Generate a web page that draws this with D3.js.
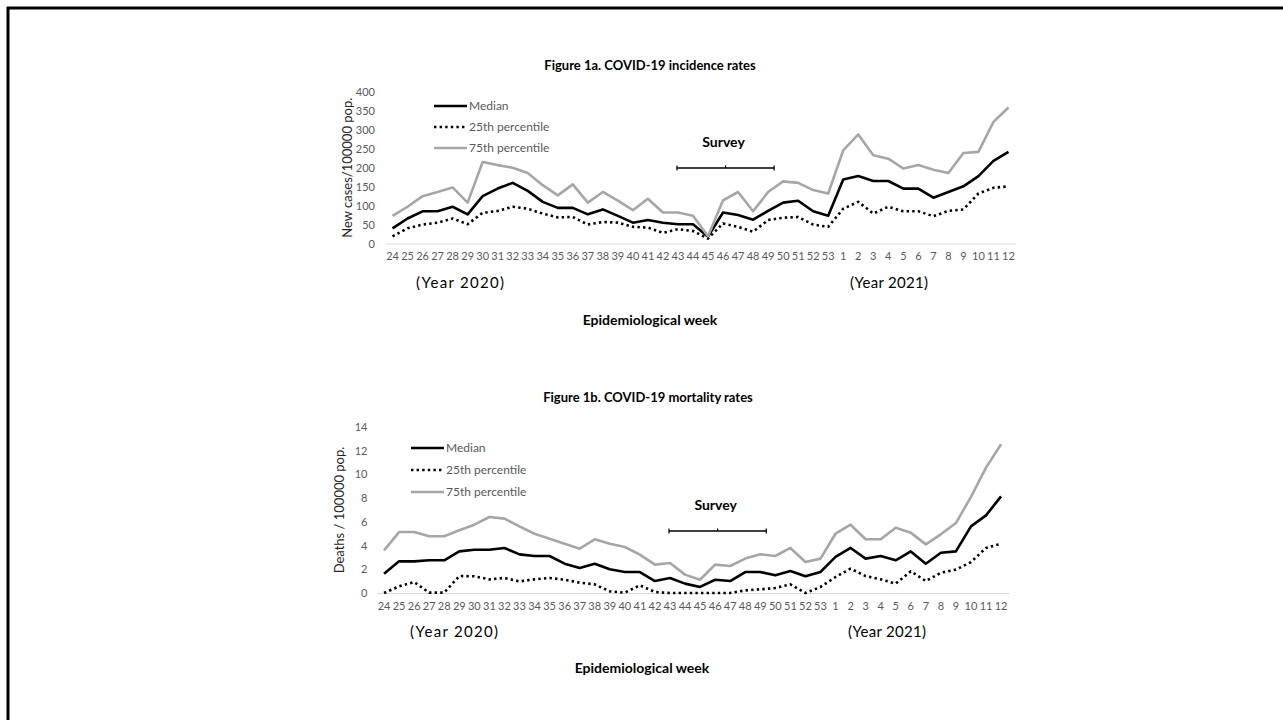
<!DOCTYPE html>
<html>
<head>
<meta charset="utf-8">
<script src="https://cdn.jsdelivr.net/npm/d3@7"></script>
<style>
  html, body { margin: 0; padding: 0; background: #fff; }
  svg { display: block; font-family: Lato, "Open Sans", sans-serif; }
</style>
</head>
<body>
<svg id="fig" width="1283" height="720"></svg>
<script>
// Epidemiological weeks: 24–53 of 2020, then 1–12 of 2021
const weeks = ["24","25","26","27","28","29","30","31","32","33","34","35","36","37","38","39","40","41","42","43","44","45","46","47","48","49","50","51","52","53","1","2","3","4","5","6","7","8","9","10","11","12"];

// Incidence: new cases per 100000 population
const incidenceMedian = [40,66,85,85,97,77,125,145,160,139,110,94,94,77,90,73,55,62,55,51,51,18,82,75,63,86,108,113,85,73,169,178,165,165,145,145,121,136,151,178,218,242];
const incidenceP25    = [19,40,50,55,66,51,81,86,97,92,79,69,70,50,57,55,44,42,28,38,33,13,53,44,31,62,68,70,50,44,92,110,79,97,85,85,72,86,90,132,147,151];
const incidenceP75    = [73,97,125,136,148,108,215,207,200,186,154,127,156,108,136,113,88,118,82,82,73,19,114,136,85,136,164,160,141,132,246,288,233,224,198,207,195,186,239,242,321,359];

// Mortality: deaths per 100000 population
const mortalityMedian = [1.63,2.67,2.67,2.76,2.76,3.51,3.65,3.65,3.80,3.26,3.12,3.12,2.47,2.11,2.47,2.00,1.77,1.77,1.01,1.27,0.79,0.51,1.12,1.01,1.77,1.77,1.49,1.86,1.41,1.77,3.04,3.80,2.90,3.12,2.76,3.51,2.47,3.40,3.51,5.62,6.55,8.15];
const mortalityP25    = [0,0.56,0.93,0.03,0.03,1.43,1.41,1.15,1.27,0.98,1.15,1.27,1.12,0.87,0.73,0.14,0.03,0.65,0.08,0,0,0,0,0,0.22,0.31,0.42,0.73,0,0.51,1.35,2.05,1.43,1.15,0.79,1.83,1.01,1.71,1.97,2.61,3.80,4.16];
const mortalityP75    = [3.60,5.14,5.14,4.78,4.78,5.29,5.76,6.41,6.27,5.62,5.00,4.58,4.16,3.74,4.53,4.16,3.88,3.23,2.39,2.53,1.55,1.12,2.39,2.28,2.90,3.26,3.12,3.80,2.61,2.90,5.00,5.76,4.53,4.53,5.51,5.09,4.10,4.95,5.90,8.10,10.57,12.54];

const incidenceTicks = [0,50,100,150,200,250,300,350,400];
const mortalityTicks = [0,2,4,6,8,10,12,14];
const legendLabels = ["Median", "25th percentile", "75th percentile"];
const surveyWeeks = ["43", "49"];

const svg = d3.select("#fig");
const GRAY_TEXT = "#595959";

// slide frame (top and left edges)
svg.append("line").attr("x1", 7).attr("x2", 1283).attr("y1", 8).attr("y2", 8)
  .attr("stroke", "#000").attr("stroke-width", 3);
svg.append("line").attr("x1", 8).attr("x2", 8).attr("y1", 7).attr("y2", 720)
  .attr("stroke", "#000").attr("stroke-width", 3);

const seriesStyle = [
  { key: "median", stroke: "#000", width: 2.6, dash: null },
  { key: "p25", stroke: "#000", width: 2.6, dash: "2.4,3.2" },
  { key: "p75", stroke: "#a6a6a6", width: 2.6, dash: null }
];

function drawPanel(p) {
  const g = svg.append("g");
  const x = d3.scaleBand().domain(weeks).range(p.xRange);
  const y = d3.scaleLinear().domain([0, d3.max(p.ticks)]).range(p.yRange);
  const cx = w => x(w) + x.bandwidth() / 2;

  // title
  g.append("text").attr("x", p.titleX).attr("y", p.titleY)
    .attr("text-anchor", "middle").attr("font-weight", "bold")
    .attr("font-size", 13).attr("fill", "#000").text(p.title);

  // x axis
  const xAxis = g.append("g").attr("transform", `translate(0,${p.yRange[0]})`)
    .call(d3.axisBottom(x).tickSize(0).tickPadding(9));
  xAxis.select(".domain").attr("stroke", "#d9d9d9").attr("stroke-width", 1.2);
  xAxis.selectAll("text").attr("font-size", 11).attr("fill", GRAY_TEXT)
    .attr("font-family", "Lato, sans-serif");

  // y axis (labels only)
  const yAxis = g.append("g").attr("transform", `translate(${p.xRange[0]},0)`)
    .call(d3.axisLeft(y).tickValues(p.ticks).tickSize(0).tickPadding(p.yPad));
  yAxis.select(".domain").remove();
  yAxis.selectAll("text").attr("font-size", 11).attr("fill", GRAY_TEXT)
    .attr("font-family", "Lato, sans-serif");

  // y axis title
  g.append("text")
    .attr("transform", `translate(${p.yTitleX},${(p.yRange[0] + p.yRange[1]) / 2}) rotate(-90)`)
    .attr("text-anchor", "middle").attr("font-size", 13).attr("fill", "#262626")
    .text(p.yTitle);

  // series lines
  const line = d3.line().x((d, i) => cx(weeks[i])).y(d => y(d));
  p.series.forEach((vals, k) => {
    const s = seriesStyle[k];
    g.append("path").datum(vals).attr("d", line)
      .attr("fill", "none").attr("stroke", s.stroke).attr("stroke-width", s.width)
      .attr("stroke-linejoin", "round")
      .attr("stroke-dasharray", s.dash);
  });

  // legend
  legendLabels.forEach((lab, k) => {
    const s = seriesStyle[k];
    const ly = p.legendY + k * p.legendGap;
    g.append("line").attr("x1", p.legendX).attr("x2", p.legendX + 33)
      .attr("y1", ly).attr("y2", ly)
      .attr("stroke", s.stroke).attr("stroke-width", s.width)
      .attr("stroke-dasharray", s.dash);
    g.append("text").attr("x", p.legendX + 35).attr("y", ly + 4)
      .attr("font-size", 12).attr("fill", GRAY_TEXT).text(lab);
  });

  // survey period bracket
  const sx0 = cx(surveyWeeks[0]) - 1;
  const sx1 = cx(surveyWeeks[1]) + 6;
  const sy = p.surveyY;
  g.append("line").attr("x1", sx0).attr("x2", sx1).attr("y1", sy).attr("y2", sy)
    .attr("stroke", "#000").attr("stroke-width", 1.6);
  [sx0, sx1].forEach(sx => g.append("line").attr("x1", sx).attr("x2", sx)
    .attr("y1", sy - 2.5).attr("y2", sy + 2.5).attr("stroke", "#000").attr("stroke-width", 1.2));
  g.append("line").attr("x1", (sx0 + sx1) / 2).attr("x2", (sx0 + sx1) / 2)
    .attr("y1", sy - 2.5).attr("y2", sy).attr("stroke", "#000").attr("stroke-width", 1.2);
  g.append("text").attr("x", (sx0 + sx1) / 2 - 2).attr("y", sy - 21)
    .attr("text-anchor", "middle").attr("font-weight", "bold").attr("font-size", 14)
    .attr("fill", "#000").text("Survey");

  // year annotations and axis title
  g.append("text").attr("x", p.year0X).attr("y", p.yearY)
    .attr("font-size", 15).attr("letter-spacing", 1.3).attr("fill", "#000").text("(Year 2020)");
  g.append("text").attr("x", p.year1X).attr("y", p.yearY)
    .attr("font-size", 15).attr("letter-spacing", 0.3).attr("fill", "#000").text("(Year 2021)");
  g.append("text").attr("x", p.xTitleX).attr("y", p.xTitleY)
    .attr("text-anchor", "middle").attr("font-weight", "bold").attr("font-size", 14)
    .attr("fill", "#000").text("Epidemiological week");
}

drawPanel({
  title: "Figure 1a. COVID-19 incidence rates", titleX: 650, titleY: 70,
  xRange: [385, 1016], yRange: [243.5, 92], ticks: incidenceTicks, yPad: 10,
  yTitle: "New cases/100000 pop.", yTitleX: 352,
  series: [incidenceMedian, incidenceP25, incidenceP75],
  legendX: 434, legendY: 106, legendGap: 21,
  surveyY: 168,
  year0X: 416, year1X: 850, yearY: 288,
  xTitleX: 650, xTitleY: 325
});

drawPanel({
  title: "Figure 1b. COVID-19 mortality rates", titleX: 648, titleY: 402,
  xRange: [376.5, 1008.6], yRange: [593, 427], ticks: mortalityTicks, yPad: 9,
  yTitle: "Deaths / 100000 pop.", yTitleX: 344,
  series: [mortalityMedian, mortalityP25, mortalityP75],
  legendX: 411, legendY: 448, legendGap: 22,
  surveyY: 531,
  year0X: 410, year1X: 848, yearY: 637,
  xTitleX: 642, xTitleY: 673
});
</script>
</body>
</html>
